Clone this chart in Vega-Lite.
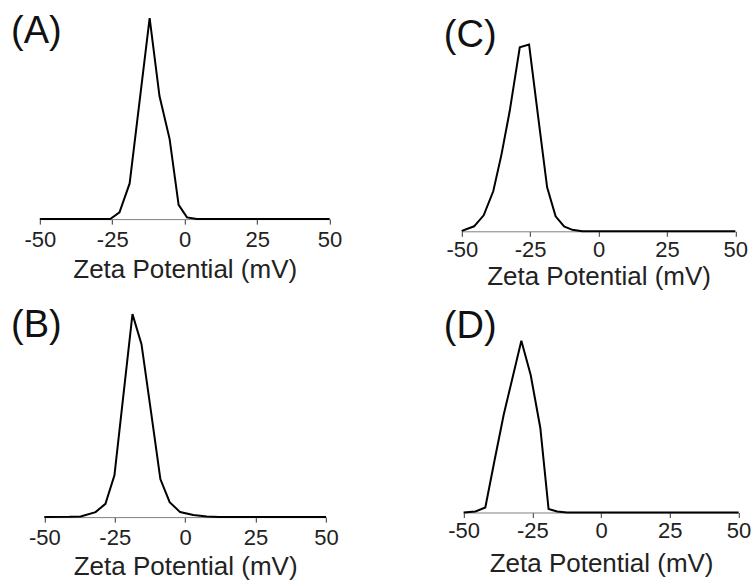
{
  "$schema": "https://vega.github.io/schema/vega-lite/v6.json",
  "padding": {"left": 10.8, "top": 11.8, "right": 0, "bottom": 0},
  "columns": 2,
  "spacing": {"column": 132, "row": 82},
  "bounds": "flush",
  "align": "all",
  "datasets": {
    "A": [
      {"zeta": -50, "intensity": 0}, {"zeta": -25.7, "intensity": 0}, {"zeta": -22.5, "intensity": 6.7},
      {"zeta": -19.0, "intensity": 35.7}, {"zeta": -12.1, "intensity": 201}, {"zeta": -8.7, "intensity": 123},
      {"zeta": -5.2, "intensity": 80}, {"zeta": -2.1, "intensity": 14.3}, {"zeta": 0.8, "intensity": 1.7},
      {"zeta": 4.2, "intensity": 0}, {"zeta": 50, "intensity": 0}
    ],
    "B": [
      {"zeta": -50, "intensity": 0}, {"zeta": -41, "intensity": 0.3}, {"zeta": -37.1, "intensity": 0.7},
      {"zeta": -31.8, "intensity": 5}, {"zeta": -28.3, "intensity": 13.3}, {"zeta": -25.1, "intensity": 41.7},
      {"zeta": -22, "intensity": 120}, {"zeta": -18.7, "intensity": 203}, {"zeta": -15.5, "intensity": 173},
      {"zeta": -12.1, "intensity": 105}, {"zeta": -8.8, "intensity": 38}, {"zeta": -5.5, "intensity": 15},
      {"zeta": -1.8, "intensity": 5}, {"zeta": 2.9, "intensity": 2}, {"zeta": 7.7, "intensity": 0.5},
      {"zeta": 12, "intensity": 0}, {"zeta": 50, "intensity": 0}
    ],
    "C": [
      {"zeta": -50, "intensity": 0}, {"zeta": -49.7, "intensity": 0.7}, {"zeta": -45.5, "intensity": 5},
      {"zeta": -42, "intensity": 16}, {"zeta": -38.5, "intensity": 40}, {"zeta": -35.5, "intensity": 76.7},
      {"zeta": -32.5, "intensity": 120}, {"zeta": -28.8, "intensity": 184}, {"zeta": -25.4, "intensity": 186.7},
      {"zeta": -22.1, "intensity": 115}, {"zeta": -18.8, "intensity": 44}, {"zeta": -15.7, "intensity": 15},
      {"zeta": -12.6, "intensity": 5}, {"zeta": -9.6, "intensity": 1.5}, {"zeta": -6, "intensity": 0},
      {"zeta": 50, "intensity": 0}
    ],
    "D": [
      {"zeta": -50, "intensity": 0}, {"zeta": -45.7, "intensity": 1}, {"zeta": -42.1, "intensity": 5},
      {"zeta": -38.9, "intensity": 50}, {"zeta": -35.4, "intensity": 98}, {"zeta": -29, "intensity": 171.7},
      {"zeta": -25.6, "intensity": 137.5}, {"zeta": -22.1, "intensity": 84.5}, {"zeta": -19.1, "intensity": 3.5},
      {"zeta": -16, "intensity": 1}, {"zeta": -12.4, "intensity": 0}, {"zeta": 50, "intensity": 0}
    ]
  },
  "concat": [
    {
      "title": {"text": "(A)", "dx": -28.7, "dy": 40.5},
      "width": 290, "height": 201.3,
      "data": {"name": "A"},
      "mark": {"type": "line", "color": "black", "strokeWidth": 2},
      "encoding": {
        "x": {"field": "zeta", "type": "quantitative", "title": "Zeta Potential (mV)",
              "scale": {"domain": [-50, 50], "range": [0, 289.8]},
              "axis": {"values": [-50, -25, 0, 25, 50], "labelPadding": 5, "titlePadding": 6,
                       "labelExpr": "datum.value < 0 ? '-' + abs(datum.value) : '' + datum.value"}},
        "y": {"field": "intensity", "type": "quantitative", "axis": null,
              "scale": {"domain": [0, 201.3], "nice": false, "zero": false}}
      }
    },
    {
      "title": {"text": "(C)", "dx": -18, "dy": 41},
      "width": 290, "height": 213.5,
      "data": {"name": "C"},
      "mark": {"type": "line", "color": "black", "strokeWidth": 2},
      "encoding": {
        "x": {"field": "zeta", "type": "quantitative", "title": "Zeta Potential (mV)",
              "scale": {"domain": [-50, 50], "range": [0, 273.5]},
              "axis": {"values": [-50, -25, 0, 25, 50], "labelPadding": 3, "titlePadding": 3,
                       "labelExpr": "datum.value < 0 ? '-' + abs(datum.value) : '' + datum.value"}},
        "y": {"field": "intensity", "type": "quantitative", "axis": null,
              "scale": {"domain": [0, 213.5], "nice": false, "zero": false}}
      }
    },
    {
      "title": {"text": "(B)", "dx": -28.7, "dy": 39},
      "width": 290, "height": 203.3,
      "data": {"name": "B"},
      "mark": {"type": "line", "color": "black", "strokeWidth": 2},
      "encoding": {
        "x": {"field": "zeta", "type": "quantitative", "title": "Zeta Potential (mV)",
              "scale": {"domain": [-50, 50], "range": [4.5, 286.2]},
              "axis": {"values": [-50, -25, 0, 25, 50], "labelPadding": 5, "titlePadding": 5,
                       "labelExpr": "datum.value < 0 ? '-' + abs(datum.value) : '' + datum.value"}},
        "y": {"field": "intensity", "type": "quantitative", "axis": null,
              "scale": {"domain": [0, 203.3], "nice": false, "zero": false}}
      }
    },
    {
      "title": {"text": "(D)", "dx": -18, "dy": 36.5},
      "width": 290, "height": 198.7,
      "data": {"name": "D"},
      "mark": {"type": "line", "color": "black", "strokeWidth": 2},
      "encoding": {
        "x": {"field": "zeta", "type": "quantitative", "title": "Zeta Potential (mV)",
              "scale": {"domain": [-50, 50], "range": [1.8, 276.8]},
              "axis": {"values": [-50, -25, 0, 25, 50], "labelPadding": 3, "titlePadding": 9,
                       "labelExpr": "datum.value < 0 ? '-' + abs(datum.value) : '' + datum.value"}},
        "y": {"field": "intensity", "type": "quantitative", "axis": null,
              "scale": {"domain": [0, 198.7], "nice": false, "zero": false}}
      }
    }
  ],
  "config": {
    "font": "Liberation Sans",
    "view": {"stroke": null},
    "title": {"anchor": "start", "frame": "group", "offset": 0, "baseline": "alphabetic",
              "fontSize": 38, "fontWeight": "normal", "color": "#111", "font": "Liberation Sans"},
    "axis": {"grid": false, "tickSize": 5, "tickWidth": 1,
             "tickColor": "#333", "domainColor": "#808080", "domainWidth": 1,
             "labelFontSize": 22, "labelColor": "#222", "labelFlush": false, "labelOverlap": false,
             "titleFontSize": 26, "titleFontWeight": "normal", "titleColor": "#222",
             "labelFont": "Liberation Sans", "titleFont": "Liberation Sans"}
  }
}
